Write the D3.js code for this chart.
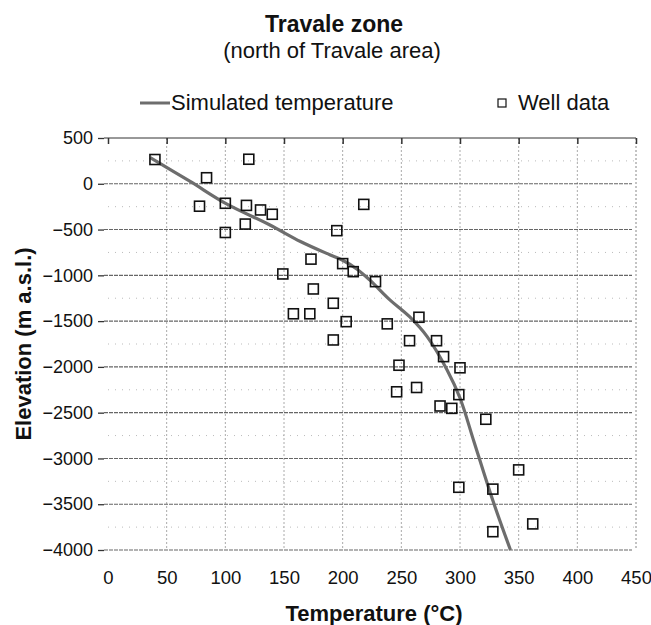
<!DOCTYPE html>
<html>
<head>
<meta charset="utf-8">
<script src="https://cdn.jsdelivr.net/npm/d3@7"></script>
<style>
  html, body { margin: 0; padding: 0; background: #fff; }
  svg { display: block; font-family: "Liberation Sans", Arial, sans-serif; }
</style>
</head>
<body>
<svg id="chart" width="651" height="625"></svg>
<script>
// ---- data ----
const xTicks = [0, 50, 100, 150, 200, 250, 300, 350, 400, 450];
const yTicks = [500, 0, -500, -1000, -1500, -2000, -2500, -3000, -3500, -4000];

const simT = [36, 70, 101, 138, 164, 189, 200, 212, 223, 240, 257, 272, 289, 300, 312, 328, 343];
const simE = [285, 25, -220, -450, -630, -775, -835, -930, -1050, -1265, -1452, -1670, -2034, -2340, -2820, -3460, -4000];

const wellT = [40, 120, 84, 78, 100, 118, 130, 140, 117, 100, 173, 149, 175, 158, 172, 218, 195, 200, 209, 228, 192, 203, 238, 265, 192, 257, 280, 286, 300, 248, 263, 246, 299, 283, 293, 322, 350, 299, 328, 362, 328];
const wellE = [265, 268, 66, -245, -213, -236, -286, -333, -440, -532, -823, -985, -1149, -1420, -1420, -225, -512, -872, -960, -1069, -1305, -1506, -1530, -1458, -1706, -1714, -1714, -1888, -2010, -1982, -2225, -2272, -2303, -2427, -2453, -2572, -3125, -3315, -3335, -3715, -3800];

const title = "Travale zone";
const subtitle = "(north of Travale area)";
const xTitle = "Temperature (°C)";
const yTitle = "Elevation (m a.s.l.)";
const legendLine = "Simulated temperature";
const legendPoints = "Well data";

// ---- layout ----
const svg = d3.select("#chart");
const x = d3.scaleLinear().domain([0, 450]).range([108, 636]);
const y = d3.scaleLinear().domain([-4000, 500]).range([550, 138]);
const font = "Liberation Sans, Arial, sans-serif";

// minor horizontal gridlines (faint dots)
const minorY = d3.range(-3750, 500, 500);
svg.append("g").selectAll("line").data(minorY).join("line")
  .attr("x1", x(0)).attr("x2", x(450))
  .attr("y1", d => y(d)).attr("y2", d => y(d))
  .attr("stroke", "#bbb").attr("stroke-width", 1)
  .attr("stroke-dasharray", "1,6");

// vertical gridlines
svg.append("g").selectAll("line").data(xTicks.slice(1, -1)).join("line")
  .attr("x1", d => x(d)).attr("x2", d => x(d))
  .attr("y1", y(500)).attr("y2", y(-4000))
  .attr("stroke", "#aaa").attr("stroke-width", 1)
  .attr("stroke-dasharray", "2,2");

// major horizontal gridlines
svg.append("g").selectAll("line").data(yTicks.slice(1)).join("line")
  .attr("x1", x(0) - 4).attr("x2", x(450) - 4)
  .attr("y1", d => y(d)).attr("y2", d => y(d))
  .attr("stroke", "#666").attr("stroke-width", 1.1)
  .attr("stroke-dasharray", "4,1");

// right border (dotted)
svg.append("line")
  .attr("x1", x(450)).attr("x2", x(450))
  .attr("y1", y(500)).attr("y2", y(-4000))
  .attr("stroke", "#888").attr("stroke-width", 1)
  .attr("stroke-dasharray", "2,2");

// top axis line with ticks
const topAxis = d3.axisTop(x).tickValues(xTicks).tickSize(-6).tickFormat("");
svg.append("g").attr("transform", `translate(0,${y(500)})`).call(topAxis)
  .call(g => g.select(".domain").attr("stroke", "#333").attr("d", `M${x(0) - 4},0H${x(450)}`))
  .call(g => g.selectAll(".tick line").attr("stroke", "#333").attr("stroke-width", 1.5));

// left axis labels and ticks
const leftAxis = d3.axisLeft(y).tickValues(yTicks).tickSize(6).tickPadding(5).tickFormat(d3.format("d"));
svg.append("g").attr("transform", `translate(${x(0) - 4},0)`).call(leftAxis)
  .call(g => g.select(".domain").remove())
  .call(g => g.selectAll(".tick line").attr("stroke", "#333").attr("stroke-width", 1.3))
  .call(g => g.selectAll(".tick text").attr("font-size", 18).attr("fill", "#111").attr("font-family", font));

// bottom axis labels
const bottomAxis = d3.axisBottom(x).tickValues(xTicks).tickSize(0).tickPadding(21).tickFormat(d3.format("d"));
svg.append("g").attr("transform", `translate(0,${y(-4000)})`).call(bottomAxis)
  .call(g => g.select(".domain").remove())
  .call(g => g.selectAll(".tick text").attr("font-size", 18.5).attr("fill", "#111").attr("font-family", font));

// simulated line
const pts = simT.map((t, i) => [t, simE[i]]);
const line = d3.line().x(d => x(d[0])).y(d => y(d[1])).curve(d3.curveCatmullRom.alpha(0.5));
svg.append("path").datum(pts).attr("d", line)
  .attr("fill", "none").attr("stroke", "#6d6d6d").attr("stroke-width", 3.2);

// well data squares
const s = 10;
svg.append("g").selectAll("rect").data(wellT.map((t, i) => [t, wellE[i]])).join("rect")
  .attr("x", d => x(d[0]) - s / 2).attr("y", d => y(d[1]) - s / 2)
  .attr("width", s).attr("height", s)
  .attr("fill", "none").attr("stroke", "#111").attr("stroke-width", 1.6);

// titles
svg.append("text").attr("x", 334).attr("y", 32).attr("text-anchor", "middle")
  .attr("font-size", 23).attr("font-weight", "bold").attr("fill", "#111").text(title);
svg.append("text").attr("x", 332).attr("y", 58).attr("text-anchor", "middle")
  .attr("font-size", 22).attr("fill", "#111").text(subtitle);

// legend
svg.append("line").attr("x1", 140).attr("x2", 170).attr("y1", 103).attr("y2", 103)
  .attr("stroke", "#6d6d6d").attr("stroke-width", 3);
svg.append("text").attr("x", 171).attr("y", 110).attr("font-size", 22).attr("fill", "#111").text(legendLine);
svg.append("rect").attr("x", 498).attr("y", 99).attr("width", 8).attr("height", 8)
  .attr("fill", "none").attr("stroke", "#111").attr("stroke-width", 1.2);
svg.append("text").attr("x", 518).attr("y", 110).attr("font-size", 22).attr("fill", "#111").text(legendPoints);

// axis titles
svg.append("text").attr("x", 374).attr("y", 621).attr("text-anchor", "middle")
  .attr("font-size", 22).attr("font-weight", "bold").attr("fill", "#111").text(xTitle);
svg.append("text").attr("transform", "translate(31,344) rotate(-90)").attr("text-anchor", "middle")
  .attr("font-size", 22).attr("font-weight", "bold").attr("fill", "#111").text(yTitle);
</script>
</body>
</html>
